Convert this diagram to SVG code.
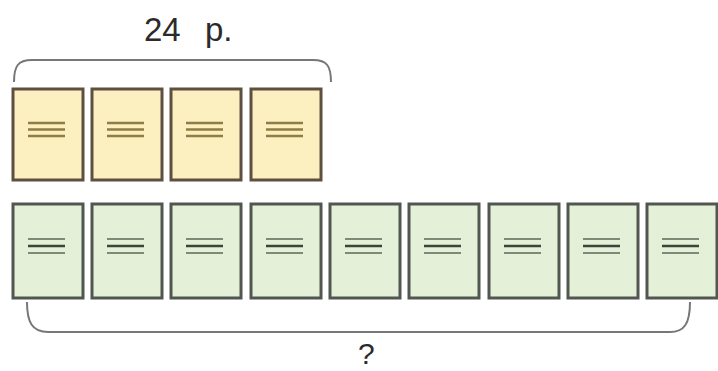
<svg xmlns="http://www.w3.org/2000/svg" width="718" height="371" viewBox="0 0 718 371">
<style>
.y{fill:#fcefc0;stroke:#5e5040;stroke-width:3}
.g{fill:#e4f1d8;stroke:#525650;stroke-width:3}
.yl{stroke:#8f7d45;stroke-width:2.5}
.gl{stroke:#7d8a78;stroke-width:2}
.gd{stroke:#3d443b;stroke-width:2.5}
.br{fill:none;stroke:#777;stroke-width:2}
.t{font-family:"Liberation Sans",Arial,sans-serif;font-size:33px;fill:#2b2b2b}
.q{font-family:"Liberation Sans",Arial,sans-serif;font-size:30px;fill:#2b2b2b}
</style>
<defs>
<g id="yc"><rect class="y" x="0" y="0" width="70" height="91"/><line class="yl" x1="15" y1="34" x2="52" y2="34"/><line class="yl" x1="15" y1="40.5" x2="52" y2="40.5"/><line class="yl" x1="15" y1="47" x2="52" y2="47"/></g>
<g id="gc"><rect class="g" x="0" y="0" width="70" height="94"/><line class="gl" x1="15" y1="35" x2="52" y2="35"/><line class="gd" x1="15" y1="42" x2="52" y2="42"/><line class="gl" x1="15" y1="49" x2="52" y2="49"/></g>
</defs>
<text class="t" x="144" y="41">24</text>
<text class="t" x="205" y="41">p.</text>
<g id="top-row">
<g id="y1"><use href="#yc" x="13" y="89"/></g>
<g id="y2"><use href="#yc" x="92" y="89"/></g>
<g id="y3"><use href="#yc" x="171" y="89"/></g>
<g id="y4"><use href="#yc" x="251" y="89"/></g>
</g>
<g id="bottom-row">
<g id="g1"><use href="#gc" x="13" y="204"/></g>
<g id="g2"><use href="#gc" x="92" y="204"/></g>
<g id="g3"><use href="#gc" x="171" y="204"/></g>
<g id="g4"><use href="#gc" x="251" y="204"/></g>
<g id="g5"><use href="#gc" x="330" y="204"/></g>
<g id="g6"><use href="#gc" x="409" y="204"/></g>
<g id="g7"><use href="#gc" x="489" y="204"/></g>
<g id="g8"><use href="#gc" x="568" y="204"/></g>
<g id="g9"><use href="#gc" x="647" y="204"/></g>
</g>
<g id="brackets">
<path class="br" d="M14,82 C14,66 18,60 32,60 L313,60 C327,60 331,66 331,82"/>
<path class="br" d="M27,302 C27,322 32,332 48,332 L670,332 C684,332 690,324 690,302"/>
</g>
<text class="q" x="358" y="364">?</text>
</svg>
